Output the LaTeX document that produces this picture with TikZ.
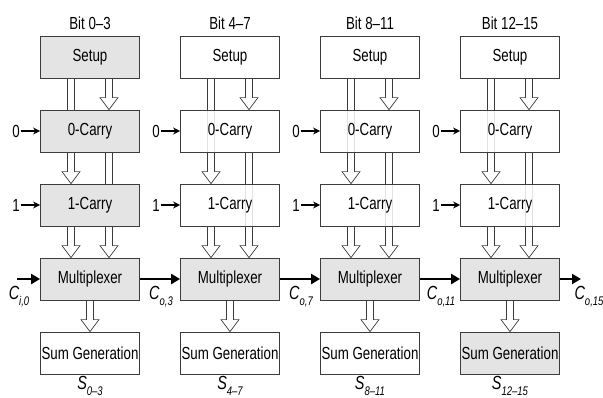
\documentclass[tikz,border=0pt]{standalone}
\usepackage{fontspec}
\setmainfont{Liberation Sans}
\usepackage{graphicx}
\usetikzlibrary{arrows.meta,calc,backgrounds}
\definecolor{edge}{HTML}{3C3C3C}
\definecolor{boxgray}{HTML}{E4E4E4}
\newcommand\tx[1]{\scalebox{0.76}[1]{#1}}
\newcommand\sbs[1]{\raisebox{-0.32em}{\fontsize{12.5}{14}\selectfont #1}}
\newcommand\harrow[3]{%
  \path[hollow] let \p1=([xshift=#3]#1.south), \p2=([xshift=#3]#2.north) in
   (\x1-3.5pt,\y1) -- (\x1-3.5pt,\y2+12pt) -- (\x1-9pt,\y2+12pt) -- (\x1,\y2) --
   (\x1+9pt,\y2+12pt) -- (\x1+3.5pt,\y2+12pt) -- (\x1+3.5pt,\y1) -- cycle;}
\begin{document}
\begin{tikzpicture}[x=1pt,y=-1pt,
  box/.style={draw=edge,line width=0.8pt,minimum width=99pt,minimum height=42pt,
    inner sep=0pt,text opacity=1,font=\fontsize{17.5}{20}\selectfont},
  lbl/.style={inner sep=1pt,font=\fontsize{17.5}{20}\selectfont},
  vlbl/.style={inner sep=1pt,font=\fontsize{19}{21}\selectfont\itshape},
  hollow/.style={draw=edge,fill=white,line width=0.7pt},
  small/.style={draw=black,line width=1.6pt,-{Stealth[length=7pt,width=7pt]}},
  carry/.style={draw=black,line width=2.8pt,-{Triangle[length=9pt,width=10pt]}}]
\useasboundingbox (0,0) rectangle (603,397);
\foreach \i/\x/\bits/\fa/\oa/\fs/\os/\sub in
  {1/90/0–3/boxgray/1/white/0.85/0–3,
   2/230/4–7/white/0.85/white/0.85/4–7,
   3/370/8–11/white/0.85/white/0.85/8–11,
   4/510/12–15/white/0.85/boxgray/1/12–15}{
  \node[lbl] (bit\i) at (\x,23) {\tx{Bit \bits}};
  \node[box,fill=\fa,fill opacity=\oa] (su\i) at (\x,57) {\tx{Setup}};
  \node[box,fill=\fa,fill opacity=\oa] (ca\i) at (\x,131) {\tx{0-Carry}};
  \node[box,fill=\fa,fill opacity=\oa] (cb\i) at (\x,205) {\tx{1-Carry}};
  \node[box,fill=boxgray] (mx\i) at (\x,279) {\tx{Multiplexer}};
  \node[box,fill=\fs,fill opacity=\os] (sg\i) at (\x,353) {\tx{Sum Generation}};
  \node[vlbl] (s\i) at (\x,386) {\tx{S\sbs{\sub}}};
  \node[lbl] (z\i) at ($(ca\i.west)+(-24,0)$) {\tx{0}};
  \node[lbl] (o\i) at ($(cb\i.west)+(-24,0)$) {\tx{1}};
  \draw[small] (z\i.east) -- (ca\i.west);
  \draw[small] (o\i.east) -- (cb\i.west);
  \begin{scope}[on background layer]
    \harrow{su\i}{cb\i}{-19pt}
    \harrow{su\i}{ca\i}{19pt}
    \harrow{ca\i}{mx\i}{19pt}
    \harrow{cb\i}{mx\i}{-19pt}
    \harrow{mx\i}{sg\i}{0pt}
  \end{scope}
}
\foreach \i/\j in {1/2,2/3,3/4}{
  \draw[carry] (mx\i.east) -- (mx\j.west);
}
\coordinate (cin) at (17,279);
\coordinate (cout) at (581,279);
\draw[carry] (cin) -- (mx1.west);
\draw[carry] (mx4.east) -- (cout);
\node[vlbl] (ci0) at (19,297) {\tx{C\sbs{i,0}}};
\node[vlbl] (co3) at (161,297) {\tx{C\sbs{o,3}}};
\node[vlbl] (co7) at (301,297) {\tx{C\sbs{o,7}}};
\node[vlbl] (co11) at (441,297) {\tx{C\sbs{o,11}}};
\node[vlbl] (co15) at (589,297) {\tx{C\sbs{o,15}}};
\end{tikzpicture}
\end{document}
